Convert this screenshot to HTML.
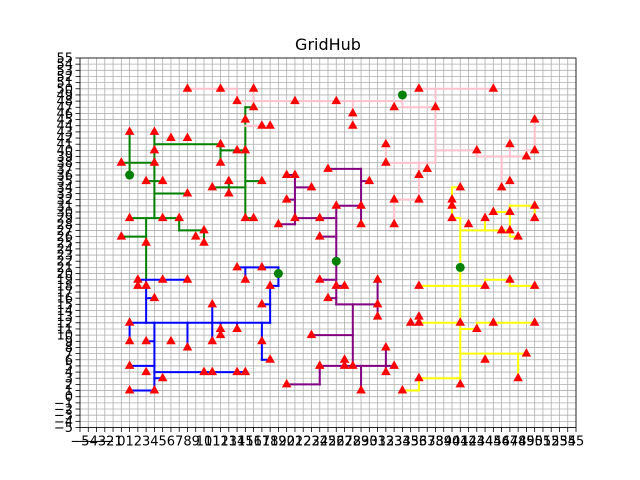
<!DOCTYPE html>
<html><head><meta charset="utf-8"><style>
html,body{margin:0;padding:0;background:#fff;}
svg{display:block;font-family:"DejaVu Sans","Liberation Sans",sans-serif;}
</style></head><body>
<svg id="chart" width="640" height="480" viewBox="0 0 640 480">
<rect width="640" height="480" fill="#fff"/>
<text x="328" y="50" font-size="16" text-anchor="middle">GridHub</text>
<g id="grid"></g>
<g id="edges"></g>
<g id="marks"></g>
<g id="axes"></g>
</svg>
<script>
const xTicks = []; for (let v = -5; v <= 55; v++) xTicks.push(v);
const yTicks = []; for (let v = -5; v <= 55; v++) yTicks.push(v);
const greenEdges = [[1,36,1,43],[0,38,4,38],[4,29,4,43],[4,41,12,41],[12,41,12,38],[12,40,15,40],[15,47,15,29],[15,47,16,47],[3,35,5,35],[4,33,8,33],[11,34,15,34],[13,33,13,35],[15,35,17,35],[15,29,16,29],[1,29,7,29],[7,29,7,27],[7,27,10,27],[10,27,10,25],[0,26,3,26],[3,29,3,19]];
const pinkEdges = [[8,50,14,50],[14,50,14,48],[14,48,34,48],[16,50,16,48],[15,44,17,44],[28,48,28,46],[34,48,34,47],[34,47,38,47],[36,50,45,50],[38,50,38,38],[38,40,43,40],[43,40,43,39],[43,39,49,39],[49,39,49,40],[49,40,50,40],[50,40,50,45],[47,39,47,41],[46,39,46,34],[32,38,38,38],[32,41,32,38],[36,38,36,32],[33,32,36,32],[33,32,33,28]];
const purpleEdges = [[20,36,21,36],[21,36,21,28],[21,34,23,34],[20,32,21,32],[19,28,21,28],[21,29,26,29],[24,26,26,26],[25,37,29,37],[29,37,29,28],[29,35,30,35],[26,31,29,31],[26,31,26,15],[24,19,26,19],[26,18,27,18],[25,16,26,16],[26,15,31,15],[31,19,31,13],[28,15,28,5],[23,10,28,10],[24,5,33,5],[27,5,27,6],[29,5,29,1],[32,8,32,4],[24,5,24,2],[20,2,24,2]];
const blueEdges = [[14,21,19,21],[19,21,19,18],[18,18,19,18],[15,21,15,19],[18,18,18,12],[17,15,18,15],[2,19,8,19],[3,19,3,12],[3,16,4,16],[1,12,18,12],[1,12,1,9],[4,12,4,1],[3,9,4,9],[1,1,4,1],[1,5,4,5],[4,4,15,4],[4,3,5,3],[8,12,8,8],[11,15,11,9],[12,12,12,10],[14,12,14,11],[17,12,17,6],[17,6,18,6]];
const yellowEdges = [[40,34,41,34],[40,34,40,29],[40,29,41,29],[41,29,41,2],[41,27,47,27],[44,27,44,29],[45,30,47,30],[47,31,47,26],[47,26,48,26],[47,31,50,31],[50,31,50,29],[36,18,44,18],[44,18,44,19],[44,19,47,19],[47,19,47,18],[47,18,50,18],[36,12,41,12],[41,11,43,11],[43,11,43,12],[43,12,50,12],[41,7,49,7],[48,7,48,3],[36,3,41,3],[36,3,36,1],[34,1,36,1]];
const nodeX = [1,0,4,4,4,6,8,12,12,14,15,15,16,3,5,8,11,13,13,17,15,16,1,5,7,10,9,10,0,3,
 8,12,16,14,21,26,28,28,33,38,36,45,32,32,43,36,37,33,36,33,47,49,50,50,46,47,17,18,
 20,21,23,20,21,19,24,24,25,30,26,29,29,24,26,27,25,31,31,31,23,24,27,28,27,32,32,33,29,20,
 2,2,3,5,8,4,1,1,3,6,8,11,11,12,12,14,14,17,15,18,17,17,18,1,3,5,10,11,14,15,1,4,
 41,40,40,40,42,44,46,47,48,45,47,50,50,36,44,47,50,35,36,36,41,43,45,50,49,44,48,36,41,34];
const nodeY = [43,38,38,40,43,42,42,41,38,40,40,45,47,35,35,33,34,35,33,35,29,29,29,29,29,27,26,25,26,25,
 50,50,50,48,48,48,46,44,47,47,50,50,41,38,40,36,37,32,32,28,41,39,40,45,34,35,44,44,
 36,36,34,32,29,28,29,26,37,35,31,31,28,19,18,18,16,19,15,13,10,5,5,5,6,4,8,5,1,2,
 19,18,18,19,19,16,12,9,9,9,8,15,9,11,10,11,21,21,19,18,15,9,6,5,4,3,4,4,4,4,1,1,
 34,32,31,29,28,29,27,27,26,30,30,31,29,18,18,19,18,12,12,13,12,11,12,12,7,6,3,3,2,1];
const rootX = [1,19,26,41,34];
const rootY = [36,20,22,21,49];

const L=80, R=576, T=58, B=427.5;
const sx = v => L + (v + 5) * (R - L) / 60;
const sy = v => B - (v + 5) * (B - T) / 60;
const NS = 'http://www.w3.org/2000/svg';
function mk(tag, parent, attrs) {
  const e = document.createElementNS(NS, tag);
  for (const k in attrs) e.setAttribute(k, attrs[k]);
  parent.appendChild(e); return e;
}
const grid = document.getElementById('grid');
const axes = document.getElementById('axes');
xTicks.forEach(v => {
  const g = mk('line', grid, {x1:sx(v), x2:sx(v), y1:T, y2:B, stroke:'#b0b0b0', 'stroke-width':0.8});
  
  
  const t = mk('line', axes, {x1:sx(v), x2:sx(v), y1:B, y2:B+4.5, stroke:'#000', 'stroke-width':0.8});
  
  
  const tx = mk('text', axes, {x:sx(v), y:B+18, 'font-size':13, 'text-anchor':'middle'});
  tx.textContent = String(v).replace('-', '\u2212');
  
  
});
yTicks.forEach(v => {
  const g = mk('line', grid, {x1:L, x2:R, y1:sy(v), y2:sy(v), stroke:'#b0b0b0', 'stroke-width':0.8});
  
  
  const t = mk('line', axes, {x1:L-4.5, x2:L, y1:sy(v), y2:sy(v), stroke:'#000', 'stroke-width':0.8});
  
  
  const tx = mk('text', axes, {x:L-7, y:sy(v)+4.5, 'font-size':13, 'text-anchor':'end'});
  tx.textContent = String(v).replace('-', '\u2212');
  
  
});
const frame = mk('rect', axes, {x:L, y:T, width:R-L, height:B-T, fill:'none', stroke:'#000', 'stroke-width':0.8});



const edges = document.getElementById('edges');
[[greenEdges,'#008000'],[pinkEdges,'#ffc0cb'],[purpleEdges,'#800080'],[blueEdges,'#0000ff'],[yellowEdges,'#ffff00']].forEach(([arr,c]) => {
  arr.forEach(s => {
    const e = mk('line', edges, {x1:sx(s[0]), y1:sy(s[1]), x2:sx(s[2]), y2:sy(s[3]), stroke:c, 'stroke-width':2, 'stroke-linecap':'square'});
    
    
  });
});
const marks = document.getElementById('marks');
nodeX.forEach((x, i) => {
  const cx = sx(x), cy = sy(nodeY[i]);
  const p = mk('polygon', marks, {points:`${cx},${cy-5.5} ${cx-4.8},${cy+3} ${cx+4.8},${cy+3}`, fill:'#ff0000'});
  
  
});
rootX.forEach((x, i) => {
  const c = mk('circle', marks, {cx:sx(x), cy:sy(rootY[i]), r:4.5, fill:'#008000'});
  
  
});
</script>
</body></html>
